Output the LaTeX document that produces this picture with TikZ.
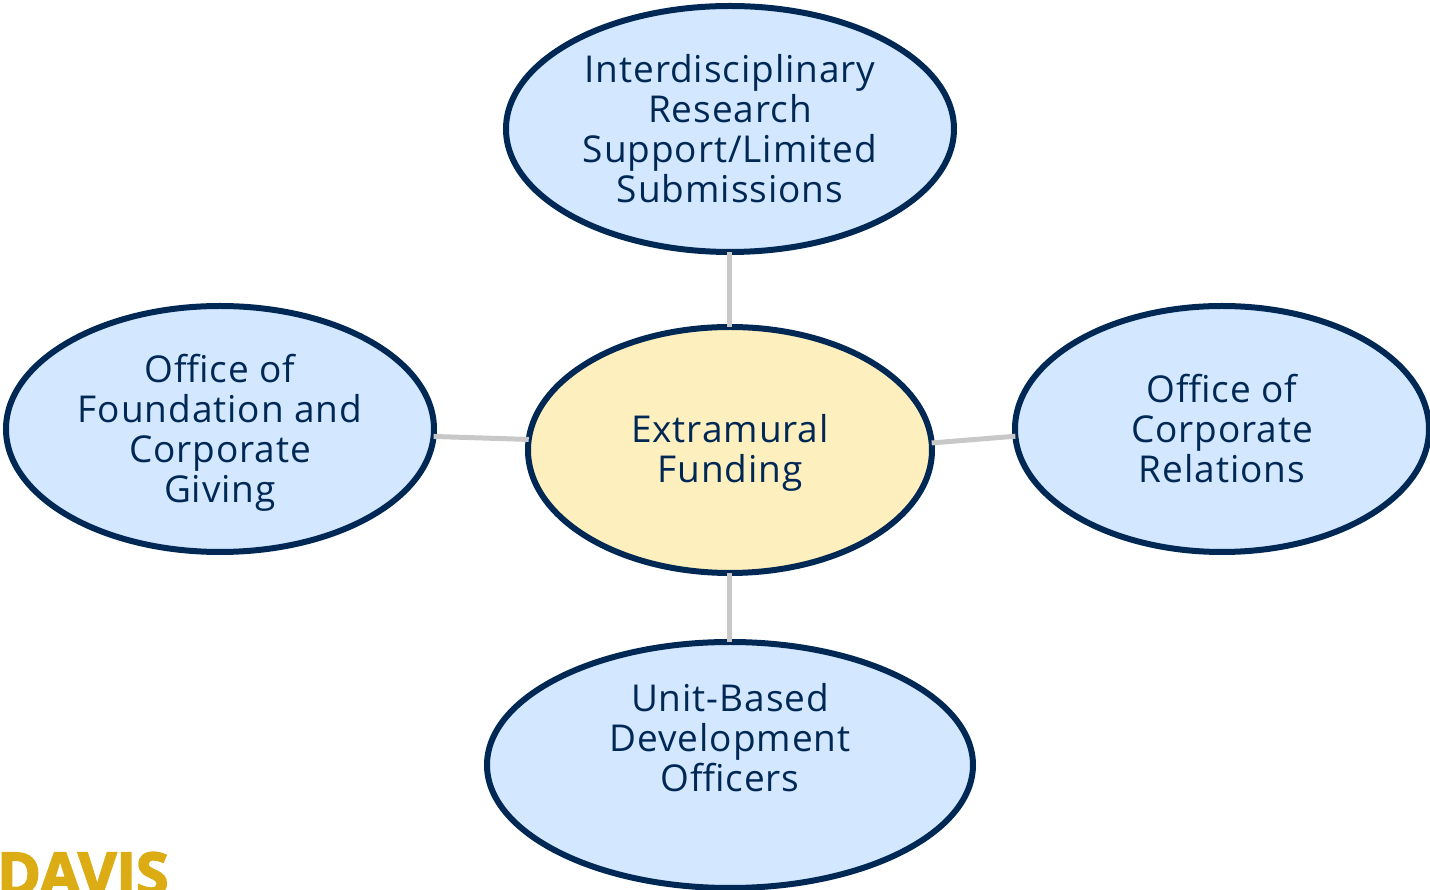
\documentclass[tikz,border=0pt]{standalone}
\usepackage{fontspec}
\setmainfont{Open Sans}[LetterSpace=2.5]
\newfontfamily\davisfont{Open Sans}[FakeBold=3]
\usetikzlibrary{shapes.geometric}

\definecolor{navy}{HTML}{002855}
\definecolor{paleblue}{HTML}{D3E7FF}
\definecolor{paleyellow}{HTML}{FEEFBF}
\definecolor{linkgray}{HTML}{C8C8C8}
\definecolor{davisgold}{HTML}{DCAC14}

\begin{document}
\begin{tikzpicture}[
     semithick % line style
 ]

 \tikzstyle{office}=[
     ellipse,
     draw = navy,
     line width = 6pt,
     fill = paleblue,
     text = navy,
     align = center,
     inner sep = 0pt,
     outer sep = 0pt,
     minimum height = 246pt,
     font = \fontsize{37}{40}\selectfont
 ]
 \tikzstyle{hub}=[
     office,
     fill = paleyellow
 ]
 \tikzstyle{link}=[
     draw = linkgray,
     line width = 5pt
 ]

 \useasboundingbox (-730pt,-440pt) rectangle (700pt,450pt);

 \node[hub, minimum width = 404pt] (funding) at (0,0) {~\\[-7pt]Extramural\\Funding};
 \node[office, minimum width = 448pt] (research) [above of=funding, node distance = 321pt] {Interdisciplinary\\Research\\Support/Limited\\Submissions};
 \node[office, minimum width = 428pt] (foundation) at (-510pt,21pt) {~\\[-5pt]Office of\\Foundation and\\Corporate\\Giving};
 \node[office, minimum width = 414pt] (corporate) at (492pt,21pt) {Office of\\Corporate\\Relations};
 \node[office, minimum width = 486pt] (unit) [below of=funding, node distance = 315pt] {Unit-Based\\Development\\Officers\\[16pt]~};

 \path[link] (research) -- (funding);
 \path[link] (unit) -- (funding);
 \path[link] (foundation.-2.1) -- (funding.177.4);
 \path[link] (corporate.182.2) -- (funding.2.6);

 \node[anchor=base west, inner sep=0pt, text=davisgold, font=\fontsize{59}{59}\davisfont\bfseries\selectfont] (davis) at (-733pt,-445pt) {DAVIS};
\end{tikzpicture}
\end{document}
